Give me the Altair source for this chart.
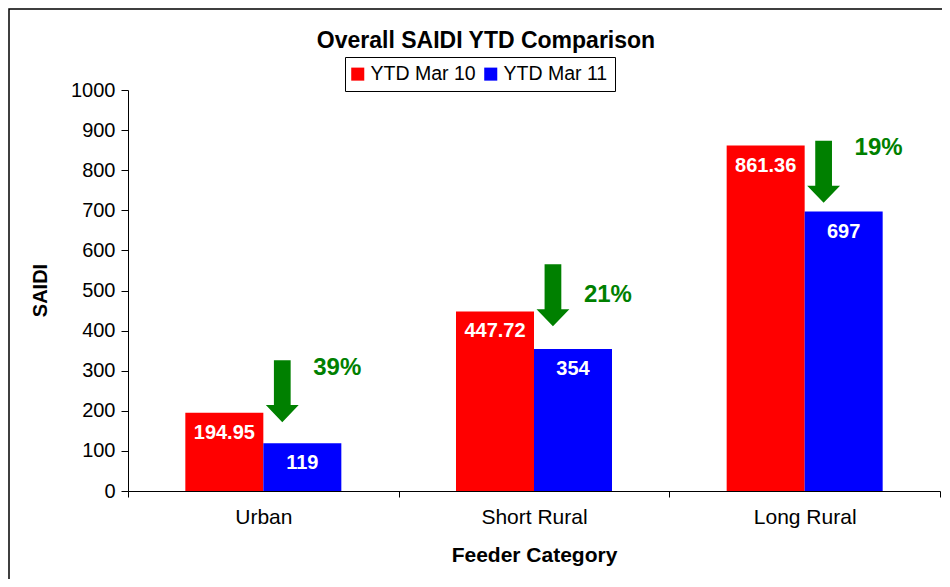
import altair as alt
import pandas as pd

categories = ["Urban", "Short Rural", "Long Rural"]
series = ["YTD Mar 10", "YTD Mar 11"]
ytd_mar10 = [194.95, 447.72, 861.36]
ytd_mar11 = [119, 354, 697]
reduction_labels = ["39%", "21%", "19%"]
arrow_level = [249, 488, 796]
reduction_level = [307, 489, 855]
y_ticks = list(range(0, 1001, 100))
chart_title = "Overall SAIDI YTD Comparison"

FONT = "Liberation Sans"
GREEN = "#008000"

rows = []
for c, a, b in zip(categories, ytd_mar10, ytd_mar11):
    rows.append({"cat": c, "series": series[0], "value": a, "label": f"{a:g}"})
    rows.append({"cat": c, "series": series[1], "value": b, "label": f"{b:g}"})
bars_df = pd.DataFrame(rows)
ann_df = pd.DataFrame({"cat": categories, "arrow": arrow_level,
                       "pct": reduction_labels, "pct_y": reduction_level})
title_df = pd.DataFrame({"t": [chart_title]})

x_scale = alt.Scale(domain=categories, paddingInner=0, paddingOuter=0)
y_scale = alt.Scale(domain=[0, 1000], nice=False)
off_scale = alt.Scale(domain=series, paddingInner=0, paddingOuter=0.735)
color_scale = alt.Scale(domain=series, range=["#FF0000", "#0000FF"])

x_axis = alt.Axis(title="Feeder Category", labelAngle=0, tickBand="extent",
                  labelFontSize=21, titleFontSize=21, titleFontWeight="bold",
                  tickSize=6, labelPadding=9, titleY=64, titleBaseline="middle",
                  labelFont=FONT, titleFont=FONT)
y_axis = alt.Axis(values=y_ticks, format="d", title="SAIDI", titleFontSize=20,
                  titleFontWeight="bold", titleX=-88, titleY=200, titleBaseline="middle",
                  labelFontSize=20, tickSize=7, labelPadding=6, grid=False,
                  labelFont=FONT, titleFont=FONT)

x_enc = alt.X("cat:N", scale=x_scale, sort=categories, axis=x_axis)
y_enc = alt.Y("value:Q", scale=y_scale, axis=y_axis)
off_enc = alt.XOffset("series:N", scale=off_scale, sort=series)

legend = alt.Legend(title=None, orient="none", legendX=217, legendY=-33,
                    direction="horizontal", strokeColor="black", padding=7,
                    symbolType="square", symbolSize=170, symbolStrokeWidth=0,
                    symbolOpacity=1, symbolOffset=-4, labelFontSize=19.5, labelFont=FONT,
                    labelOffset=3, columnPadding=8, fillColor="white")

bars = alt.Chart(bars_df).mark_bar(opacity=1).encode(
    x=x_enc, xOffset=off_enc, y=y_enc,
    color=alt.Color("series:N", scale=color_scale, sort=series, legend=legend),
)

bar_labels = alt.Chart(bars_df).mark_text(
    color="white", fontWeight="bold", fontSize=20, font=FONT, baseline="middle", dy=20
).encode(x=x_enc, xOffset=off_enc, y=y_enc, text="label:N")

arrow_path = "M -0.27 -1 L 0.27 -1 L 0.27 0.45 L 0.53 0.45 L 0 1 L -0.53 0.45 L -0.27 0.45 Z"
arrows = alt.Chart(ann_df).mark_point(
    shape=arrow_path, size=62 * 62, filled=True, color=GREEN, opacity=1, strokeWidth=0
).encode(
    x=alt.X("cat:N", scale=x_scale, sort=categories, bandPosition=0.57),
    y=alt.Y("arrow:Q", scale=y_scale),
)

pct_text = alt.Chart(ann_df).mark_text(
    color=GREEN, fontWeight="bold", fontSize=24, font=FONT, baseline="middle", align="center"
).encode(
    x=alt.X("cat:N", scale=x_scale, sort=categories, bandPosition=0.773),
    y=alt.Y("pct_y:Q", scale=y_scale),
    text="pct:N",
)

title = alt.Chart(title_df).mark_text(
    fontWeight="bold", fontSize=23, font=FONT, baseline="middle", align="center", color="black"
).encode(x=alt.value(358), y=alt.value(-49), text="t:N")

frame = alt.Chart(title_df).mark_rect(
    fillOpacity=0, stroke="black", strokeWidth=1.5
).encode(x=alt.value(-119), x2=alt.value(900), y=alt.value(-81), y2=alt.value(700))

chart = alt.layer(frame, bars, bar_labels, arrows, pct_text, title).properties(
    width=812, height=401,
    autosize=alt.AutoSizeParams(type="none"),
    padding={"left": 120, "top": 82, "right": 2, "bottom": 88},
).configure_view(stroke=None).configure_axis(
    domainColor="black", tickColor="black", labelColor="black", titleColor="black",
    domainWidth=1, tickWidth=1,
)

chart.save("out.html", embed_options={"renderer": "svg", "actions": False})
